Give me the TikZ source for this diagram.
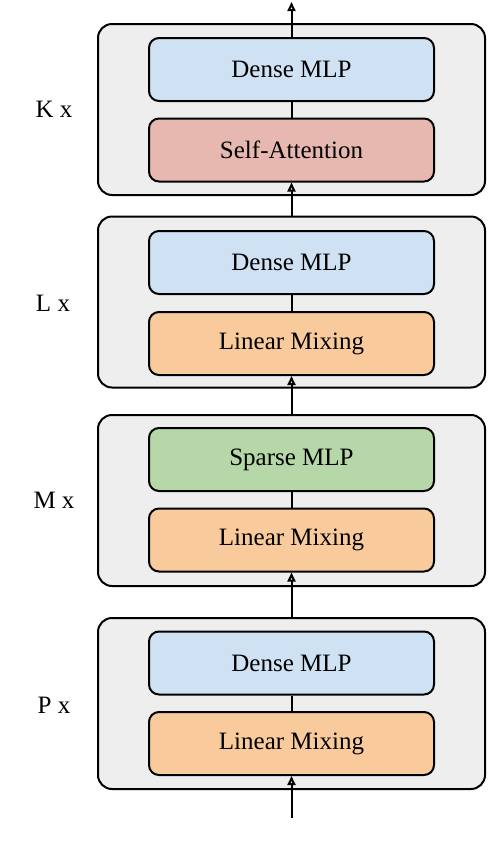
\documentclass[tikz,border=0pt]{standalone}
\usepackage{fontspec}
\setmainfont{Liberation Serif}
\usetikzlibrary{
    arrows.meta,
    positioning
}
\definecolor{blockgray}{RGB}{238, 238, 238}
\definecolor{mlpblue}{RGB}{207, 226, 243}
\definecolor{attnred}{RGB}{230, 184, 175}
\definecolor{mixorange}{RGB}{249, 203, 156}
\definecolor{sparsegreen}{RGB}{182, 215, 168}

\begin{document}
\begin{tikzpicture}[x=0.5pt, y=-0.5pt,
    block/.style={draw, line width=1pt, rounded corners=7pt, fill=blockgray,
        minimum width=193.5pt, minimum height=85.5pt},
    layer/.style={draw, line width=1pt, rounded corners=5pt,
        minimum width=142.5pt, minimum height=31.5pt,
        font=\fontsize{12.5}{14}\selectfont},
    repeatlbl/.style={font=\fontsize{12.5}{14}\selectfont},
    flow/.style={-{Triangle[open, length=4.5pt, width=4pt]}, line width=1pt}]
    \useasboundingbox (0,0) rectangle (488,852);

    % Outer blocks
    \node[block] (kblock) at (291.5,109.5) {};
    \node[block] (lblock) at (291.5,302) {};
    \node[block] (mblock) at (291.5,500.5) {};
    \node[block] (pblock) at (291.5,703.5) {};

    % Layers inside the blocks
    \node[layer, fill=mlpblue] (kdense) at (291.5,69.5) {Dense MLP};
    \node[layer, fill=attnred] (kattn) at (291.5,150) {Self-Attention};
    \node[layer, fill=mlpblue] (ldense) at (291.5,262.5) {Dense MLP};
    \node[layer, fill=mixorange] (lmix) at (291.5,343.5) {Linear Mixing};
    \node[layer, fill=sparsegreen] (msparse) at (291.5,459.5) {Sparse MLP};
    \node[layer, fill=mixorange] (mmix) at (291.5,540) {Linear Mixing};
    \node[layer, fill=mlpblue] (pdense) at (291.5,663) {Dense MLP};
    \node[layer, fill=mixorange] (pmix) at (291.5,743.5) {Linear Mixing};

    % Repeat counts
    \node[repeatlbl] (klbl) at (54,109) {K x};
    \node[repeatlbl] (llbl) at (53,303) {L x};
    \node[repeatlbl] (mlbl) at (54,500) {M x};
    \node[repeatlbl] (plbl) at (54,705) {P x};

    % Connections
    \coordinate (output) at (291.5,2);
    \coordinate (input) at (291.5,818);
    \draw[flow] (input) -- (pmix);
    \draw[line width=1pt] (pmix) -- (pdense);
    \draw[flow] (pblock.north) -- (mmix);
    \draw[line width=1pt] (mmix) -- (msparse);
    \draw[flow] (mblock.north) -- (lmix);
    \draw[line width=1pt] (lmix) -- (ldense);
    \draw[flow] (lblock.north) -- (kattn);
    \draw[line width=1pt] (kattn) -- (kdense);
    \draw[flow] (kdense) -- (output);
\end{tikzpicture}
\end{document}
